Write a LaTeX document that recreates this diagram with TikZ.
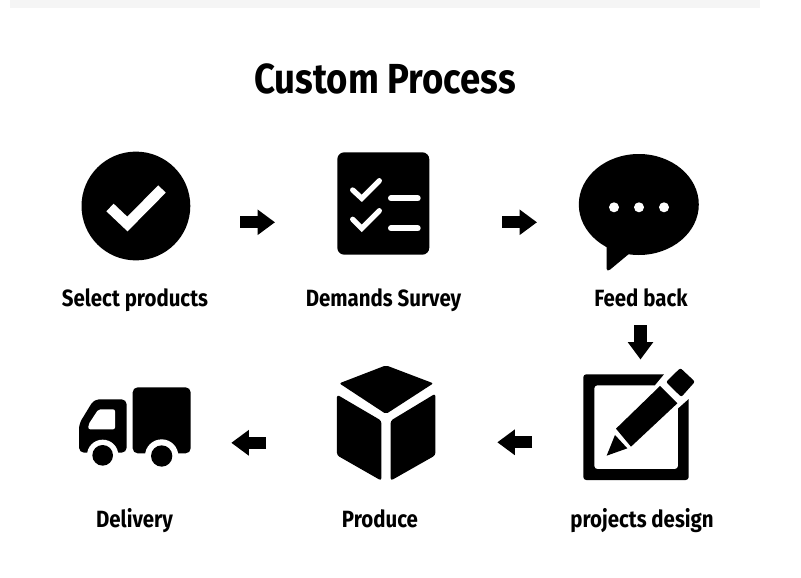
\documentclass[tikz,border=0pt]{standalone}
\usepackage{fontspec}
\usetikzlibrary{arrows.meta}
\newfontfamily\lblfont[FakeStretch=0.87]{Fira Sans Bold}
\tikzset{
  x=1pt,y=-1pt,
  lbl/.style={inner sep=0pt,anchor=base,font=\lblfont\fontsize{23.5}{26}\selectfont},
  titlelbl/.style={inner sep=0pt,anchor=base,font=\lblfont\fontsize{42}{46}\selectfont},
  blockarrow/.style={line width=12.3pt,draw=black,-{Triangle[length=17.5pt,width=24.5pt]}},
  solid shape/.style={fill=black,draw=none},
  tickline/.style={draw=white,line width=5.3pt,line cap=round,line join=miter},
  listline/.style={draw=white,line width=6pt,line cap=round},
  zoomed/.style={x=0.33333pt,y=-0.33333pt}
}
\begin{document}
\begin{tikzpicture}
\useasboundingbox (0,0) rectangle (801,578);
\fill[white] (0,0) rectangle (801,578);
\fill[black!4] (10,0) rectangle (760,8);
\node[titlelbl] (title) at (385,94) {Custom Process};
% select
\fill[solid shape] (135.9,206) circle[radius=54.4];
\draw[draw=white,line width=10.5pt] (110,207.5) -- (127.4,224) -- (162,189);
\node[lbl] (select) at (135,306.5) {Select products};
% survey
\fill[solid shape,rounded corners=7pt] (337.3,152.3) rectangle (429.3,254.7);
\draw[tickline] (352.7,190) -- (361.7,198.3) -- (379.3,180.7);
\draw[tickline] (352.7,219.3) -- (361.7,228.3) -- (379.3,210.7);
\draw[listline] (391,198.3) -- (417.7,198.3);
\draw[listline] (391,228.3) -- (417.7,228.3);
\node[lbl] (survey) at (383.5,306.5) {Demands Survey};
% feedback
\fill[solid shape] (638.8,204.5) ellipse[x radius=60,y radius=50.5];
\fill[solid shape,rounded corners=1.5pt] (606.7,240) -- (606.7,270.5) -- (609,270.5) -- (630,253) -- cycle;
\foreach \cx in {614,639,664} \fill[white] (\cx,207.3) circle[radius=5];
\node[lbl] (feedback) at (641,306.5) {Feed back};
% design
\fill[solid shape,rounded corners=3pt,even odd rule] (583.3,374.3) rectangle (688.7,480) (594.3,385.3) rectangle (678,469);
\begin{scope}[shift={(480,140)},zoomed]
\fill[white] (525,736) -- (555,700) -- (600,665) -- (665,725) -- (630,773) -- (594,805) -- cycle;
\fill[solid shape,rounded corners=2pt] (601,684) -- (645,725) -- (604,771) -- (558,726) -- cycle;
\fill[solid shape] (408,866) -- (540,738) -- (592,790) -- (453,920) -- cycle;
\fill[solid shape] (405,885) -- (442,925) -- (380,947) -- cycle;
\end{scope}
\node[lbl] (design) at (642,527.5) {projects design};
% produce
\begin{scope}[shift={(60,350)},zoomed]
\fill[solid shape,rounded corners=2pt] (978,46) -- (1120,100) -- (978,192) -- (838,100) -- cycle;
\fill[solid shape,rounded corners=2.5pt] (831,134) -- (964,212) -- (964,392) -- (831,316) -- cycle;
\fill[solid shape,rounded corners=2.5pt] (992,212) -- (1126,131) -- (1126,316) -- (992,392) -- cycle;
\end{scope}
\node[lbl] (produce) at (380,527.5) {Produce};
% delivery
\begin{scope}[shift={(60,350)},zoomed]
\fill[solid shape,rounded corners=5pt] (218,112) rectangle (392,310);
\fill[solid shape,rounded corners=5pt] (57,308) -- (57,222) -- (102,148) -- (200,148) -- (200,308) -- cycle;
\fill[white] (305,318) circle[radius=50];
\fill[white] (128,316) circle[radius=47];
\fill[white] (60,345) rectangle (392,360);
\fill[solid shape] (128,316) circle[radius=31];
\fill[solid shape] (305,318) circle[radius=32];
\fill[white,rounded corners=2pt] (85,238) -- (85,224) -- (115,178) -- (165,178) -- (165,238) -- cycle;
\end{scope}
\node[lbl] (delivery) at (134.5,527.5) {Delivery};
% arrows
\coordinate (a1s) at (240,222.3); \coordinate (a1e) at (275,222.3);
\coordinate (a2s) at (502,222.3); \coordinate (a2e) at (537,222.3);
\coordinate (a3s) at (640.5,325); \coordinate (a3e) at (640.5,359.5);
\coordinate (a4s) at (532,442.3); \coordinate (a4e) at (497.3,442.3);
\coordinate (a5s) at (266,442.8); \coordinate (a5e) at (231.3,442.8);
\draw[blockarrow] (a1s) -- (a1e);
\draw[blockarrow] (a2s) -- (a2e);
\draw[blockarrow] (a3s) -- (a3e);
\draw[blockarrow] (a4s) -- (a4e);
\draw[blockarrow] (a5s) -- (a5e);
\end{tikzpicture}
\end{document}
